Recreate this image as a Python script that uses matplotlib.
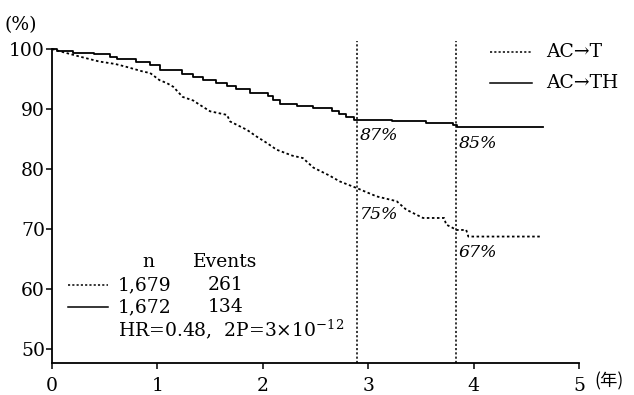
import matplotlib
matplotlib.use("Agg")
import matplotlib.pyplot as plt
from matplotlib.lines import Line2D

plt.rcParams['font.family'] = ['DejaVu Serif', 'Noto Sans CJK JP']
plt.rcParams['mathtext.fontset'] = 'dejavuserif'

# Kaplan-Meier curves (years, % event-free)
t_act = [0, 0.10, 0.27, 0.45, 0.60, 0.71, 0.87, 0.93, 1.02, 1.09, 1.15, 1.24,
         1.34, 1.40, 1.50, 1.66, 1.69, 1.85, 1.94, 2.04, 2.13, 2.28, 2.38,
         2.48, 2.63, 2.73, 2.89, 3.08, 3.27, 3.36, 3.52, 3.72, 3.74, 3.84,
         3.93, 3.95, 4.63]
s_act = [100, 99.5, 98.7, 97.9, 97.5, 97.0, 96.2, 96.0, 94.8, 94.3, 93.7, 92.0,
         91.4, 90.7, 89.6, 89.0, 87.9, 86.5, 85.4, 84.3, 83.2, 82.2, 81.8,
         80.2, 78.9, 77.9, 76.8, 75.4, 74.6, 73.2, 71.8, 71.8, 70.7, 69.8,
         69.8, 68.7, 68.7]

t_acth = [0, 0.05, 0.20, 0.40, 0.55, 0.62, 0.80, 0.93, 1.02, 1.23, 1.34, 1.43,
          1.56, 1.66, 1.75, 1.88, 2.05, 2.10, 2.16, 2.32, 2.48, 2.66, 2.72,
          2.79, 2.87, 3.23, 3.55, 3.80, 3.84, 4.66]
s_acth = [100, 99.7, 99.4, 99.1, 98.7, 98.3, 97.9, 97.3, 96.5, 95.9, 95.4, 94.9,
          94.4, 93.8, 93.3, 92.7, 92.2, 91.5, 90.9, 90.5, 90.1, 89.7, 89.2,
          88.7, 88.2, 87.9, 87.6, 87.3, 87.05, 87.05]

# landmark lines and their labels
mark_t = [2.89, 3.83]
lab_acth = ['87%', '85%']
lab_act = ['75%', '67%']
lab_acth_y = [85.5, 84.3]
lab_act_y = [72.3, 66.0]

yticks = [50, 60, 70, 80, 90, 100]
xticks = [0, 1, 2, 3, 4, 5]

W, H = 634, 395
fig = plt.figure(figsize=(W / 100, H / 100), dpi=100)
ax = fig.add_axes([52 / W, 32 / H, (579 - 52) / W, (361 - 32) / H])

def fx(px):
    return px / W

def fy(py):
    return 1 - py / H

dot = (0, (1.4, 1.4))
fs = 13.5

ax.plot(t_act, s_act, color='black', lw=1.3, ls=dot)
ax.plot(t_acth, s_acth, color='black', lw=1.3, drawstyle='steps-post')
ax.vlines(mark_t, 47.6, 101.3, color='black', lw=1.1, linestyles=[dot])

for xm, a, b, ya, yb in zip(mark_t, lab_acth, lab_act, lab_acth_y, lab_act_y):
    ax.text(xm + 0.03, ya, a, fontsize=fs - 1, style='italic', va='center', ha='left')
    ax.text(xm + 0.03, yb, b, fontsize=fs - 1, style='italic', va='center', ha='left')

ax.set_xlim(0, 5)
ax.set_ylim(47.6, 102.5)
ax.set_xticks(xticks)
ax.set_yticks(yticks)
ax.tick_params(axis='y', length=4, width=1.1, pad=1, labelsize=fs)
ax.tick_params(axis='x', length=4, width=1.1, pad=6, labelsize=fs)
for s in ['top', 'right']:
    ax.spines[s].set_visible(False)
ax.spines['left'].set_bounds(47.6, 100)
ax.spines['left'].set_linewidth(1.3)
ax.spines['bottom'].set_linewidth(1.3)

fig.text(fx(5), fy(25), '(%)', fontsize=fs, va='center', ha='left')
fig.text(fx(594), fy(381), '(年)', fontsize=fs - 1, va='center', ha='left',
         family=['Noto Sans CJK JP'])

# legend, upper right
fig.add_artist(Line2D([fx(490), fx(532)], [fy(52), fy(52)], color='black', lw=1.1, ls=dot))
fig.add_artist(Line2D([fx(490), fx(532)], [fy(83), fy(83)], color='black', lw=1.1))
fig.text(fx(546), fy(52), 'AC→T', fontsize=fs, va='center', ha='left')
fig.text(fx(546), fy(83), 'AC→TH', fontsize=fs, va='center', ha='left')

# table, lower left
fig.text(fx(148), fy(262), 'n', fontsize=fs, va='center', ha='center')
fig.text(fx(193), fy(262), 'Events', fontsize=fs, va='center', ha='left')
fig.add_artist(Line2D([fx(68), fx(108)], [fy(285), fy(285)], color='black', lw=1.1, ls=dot))
fig.add_artist(Line2D([fx(68), fx(108)], [fy(307), fy(307)], color='black', lw=1.1))
fig.text(fx(118), fy(285), '1,679', fontsize=fs, va='center', ha='left')
fig.text(fx(208), fy(285), '261', fontsize=fs, va='center', ha='left')
fig.text(fx(118), fy(307), '1,672', fontsize=fs, va='center', ha='left')
fig.text(fx(208), fy(307), '134', fontsize=fs, va='center', ha='left')
fig.text(fx(118), fy(329), 'HR=0.48,  2P=3×10$^{-12}$', fontsize=fs, va='center', ha='left')

fig.savefig('out.png', dpi=100)
